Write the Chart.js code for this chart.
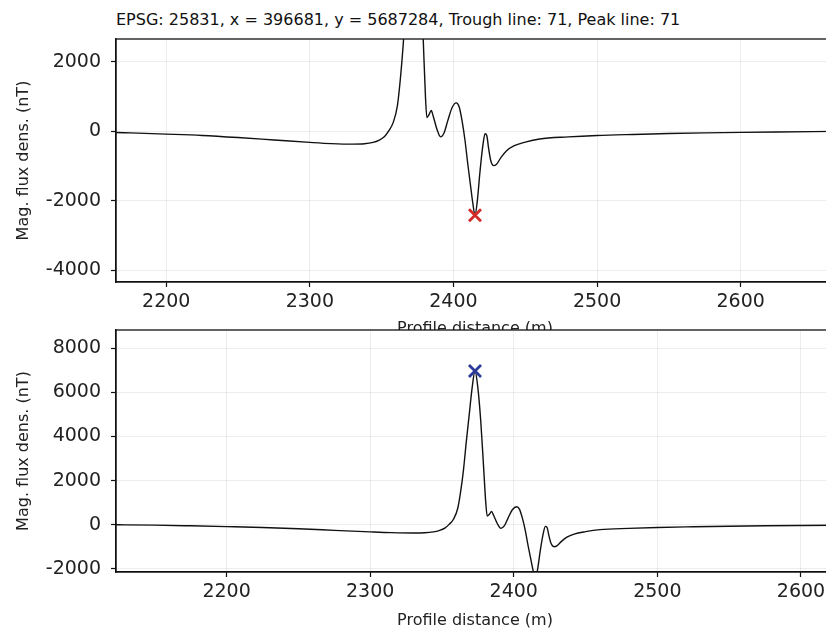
<!DOCTYPE html>
<html>
<head>
<meta charset="utf-8">
<script src="https://cdn.jsdelivr.net/npm/chart.js@4/dist/chart.umd.min.js"></script>
<style>
html,body{margin:0;padding:0;background:#fff;overflow:hidden;width:826px;height:630px;}
#title{position:absolute;left:116px;top:10px;font:16px 'DejaVu Sans';color:#111;white-space:nowrap;line-height:19px;}
#c1{position:absolute;left:0;top:0;}
#c2{position:absolute;left:0;top:300px;}
</style>
</head>
<body>
<div id="title">EPSG: 25831, x = 396681, y = 5687284, Trough line: 71, Peak line: 71</div>
<canvas id="c1" width="850" height="340"></canvas>
<canvas id="c2" width="850" height="330"></canvas>
<script>
// Profile distance (m)
const distance = [2100,2125,2150,2175,2200,2225,2250,2275,2300,2315,2330,2338,2344,2348,2352,2355,2358,2361,2363,2365,2367,2369,2371,2373,2375,2377,2379,2380.5,2381.5,2383,2384.5,2386,2388.5,2391,2393.5,2396,2399,2402,2404,2406,2408,2410,2412,2413.5,2415,2416.5,2418.5,2420.5,2422,2423.2,2424.5,2426,2428,2430,2433,2437,2442,2450,2460,2480,2500,2525,2550,2575,2600,2625,2650,2675];
// Magnetic flux density (nT)
const fluxDensity = [10,0,-15,-45,-80,-120,-180,-250,-320,-355,-370,-360,-320,-260,-150,20,250,750,1500,2500,3800,5000,6200,6960,6200,4700,2600,1000,400,480,600,420,60,-160,-40,300,680,820,700,300,-250,-950,-1600,-2080,-2420,-2050,-1150,-400,-70,-120,-500,-850,-990,-950,-760,-560,-420,-310,-220,-160,-120,-90,-65,-45,-30,-18,-8,0];
const troughX = [2415];
const troughY = [-2420];
const peakX = [2373];
const peakY = [6960];
const xTicks = [2200,2300,2400,2500,2600];
const topYTicks = [-4000,-2000,0,2000];
const bottomYTicks = [-2000,0,2000,4000,6000,8000];
const topXRange = [2165,2665];
const topYRange = [-4345,2662];
const bottomXRange = [2123,2623];
const bottomYRange = [-2136,8818];

const FONT = "'DejaVu Sans', sans-serif";
const profile = distance.map((d,i)=>({x:d,y:fluxDensity[i]}));

const framePlugin = {
  id:'frame',
  beforeDraw(chart){
    const a = chart.chartArea, ctx = chart.ctx;
    ctx.save(); ctx.fillStyle='#fff';
    ctx.fillRect(a.left,a.top,a.right-a.left,a.bottom-a.top);
    ctx.restore();
  },
  afterDraw(chart){
    const a = chart.chartArea, ctx = chart.ctx;
    ctx.save(); ctx.strokeStyle='#111'; ctx.lineWidth=1.3;
    ctx.strokeRect(a.left,a.top,a.right-a.left,a.bottom-a.top);
    ctx.restore();
  }
};

function makeChart(id, xr, yr, yTicks, markX, markY, markColor, padTop, xTitlePad){
  const ctx = document.getElementById(id);
  return new Chart(ctx, {
    type:'line',
    data:{datasets:[
      {data:profile, borderColor:'#111', borderWidth:1.4, pointRadius:0, cubicInterpolationMode:'monotone', fill:false, order:2},
      {type:'scatter', data:markX.map((x,i)=>({x:x,y:markY[i]})), pointStyle:'crossRot', pointRadius:8.5, borderWidth:2.8, borderColor:markColor, backgroundColor:markColor, showLine:false, order:1}
    ]},
    options:{
      responsive:false, animation:false, devicePixelRatio:1,
      layout:{padding:{top:padTop,right:16,left:0,bottom:0}},
      plugins:{legend:{display:false},tooltip:{enabled:false},title:{display:false}},
      scales:{
        x:{type:'linear', min:xr[0], max:xr[1],
          afterBuildTicks:(s)=>{s.ticks = xTicks.map(v=>({value:v}));},
          afterFit:(s)=>{s.height=58;},
          ticks:{font:{family:FONT,size:19}, color:'#222', padding:4, maxRotation:0, callback:(v)=>String(v)},
          grid:{color:'rgba(0,0,0,0.07)', tickColor:'#111', tickLength:5, tickWidth:1.2},
          border:{color:'#111', width:1.3},
          title:{display:true, text:'Profile distance (m)', font:{family:FONT,size:16}, color:'#222', padding:{top:0,bottom:xTitlePad}}
        },
        y:{type:'linear', min:yr[0], max:yr[1],
          afterBuildTicks:(s)=>{s.ticks = yTicks.map(v=>({value:v}));},
          afterFit:(s)=>{s.width=116;},
          ticks:{font:{family:FONT,size:19}, color:'#222', padding:10, callback:(v)=>String(v)},
          grid:{color:'rgba(0,0,0,0.07)', tickColor:'#111', tickLength:5, tickWidth:1.2},
          border:{color:'#111', width:1.3},
          title:{display:true, text:'Mag. flux dens. (nT)', font:{family:FONT,size:16}, color:'#222', padding:{top:14,bottom:0}}
        }
      }
    },
    plugins:[framePlugin]
  });
}

makeChart('c1', topXRange, topYRange, topYTicks, troughX, troughY, '#d42a2a', 39, 2);
makeChart('c2', bottomXRange, bottomYRange, bottomYTicks, peakX, peakY, '#2b3a9a', 30, 0);
</script>
</body>
</html>
